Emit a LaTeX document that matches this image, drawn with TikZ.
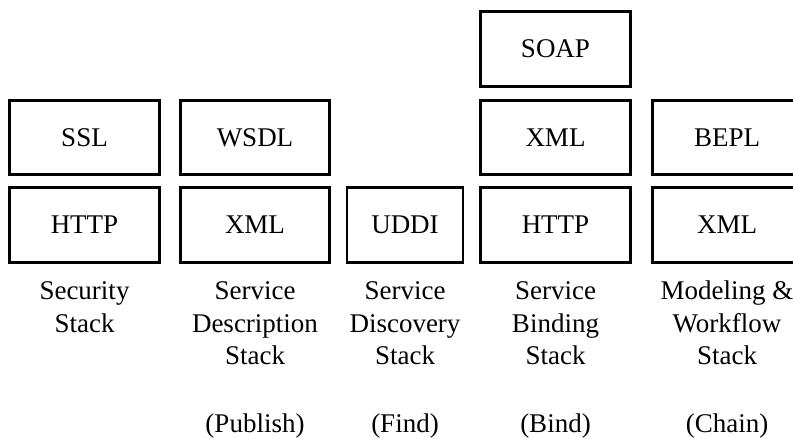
\documentclass[tikz,border=0pt]{standalone}
\usepackage{fontspec}
\setmainfont{Liberation Serif}
\begin{document}
\begin{tikzpicture}[x=1pt,y=-1pt,
  layer/.style={draw=black, line width=2.6pt, inner sep=0pt,
    minimum height=74.5pt, font=\fontsize{27}{32.5}\selectfont},
  wide/.style={layer, minimum width=149.5pt},
  narrow/.style={layer, minimum width=116pt},
  caption/.style={align=center, anchor=base, inner sep=0pt,
    font=\fontsize{27}{32.5}\selectfont}]
\clip (0,0) rectangle (793,438);

% security stack
\node[wide] (ssl)   at (84.5,137.5) {SSL};
\node[wide] (http1) at (84.5,225)   {HTTP};
% service description stack
\node[wide] (wsdl)  at (255,137.5)  {WSDL};
\node[wide] (xml1)  at (255,225)    {XML};
% service discovery stack
\node[narrow] (uddi) at (405,225)   {UDDI};
% service binding stack
\node[wide] (soap)  at (555.5,49)   {SOAP};
\node[wide] (xml2)  at (555.5,137.5){XML};
\node[wide] (http2) at (555.5,225)  {HTTP};
% modeling and workflow stack
\node[wide] (bepl)  at (727,137.5)  {BEPL};
\node[wide] (xml3)  at (727,225)    {XML};

% stack captions (anchored at the baseline of their last line)
\node[caption] (c1) at (84.5,332.5) {Security\\Stack};
\node[caption] (c2) at (255,365)  {Service\\Description\\Stack};
\node[caption] (c3) at (405,365)  {Service\\Discovery\\Stack};
\node[caption] (c4) at (555.5,365){Service\\Binding\\Stack};
\node[caption] (c5) at (727,365)  {Modeling \&\\Workflow\\Stack};

% roles
\node[caption] (r2) at (255,432)   {(Publish)};
\node[caption] (r3) at (405,432)   {(Find)};
\node[caption] (r4) at (555.5,432) {(Bind)};
\node[caption] (r5) at (727,432)   {(Chain)};
\end{tikzpicture}
\end{document}
